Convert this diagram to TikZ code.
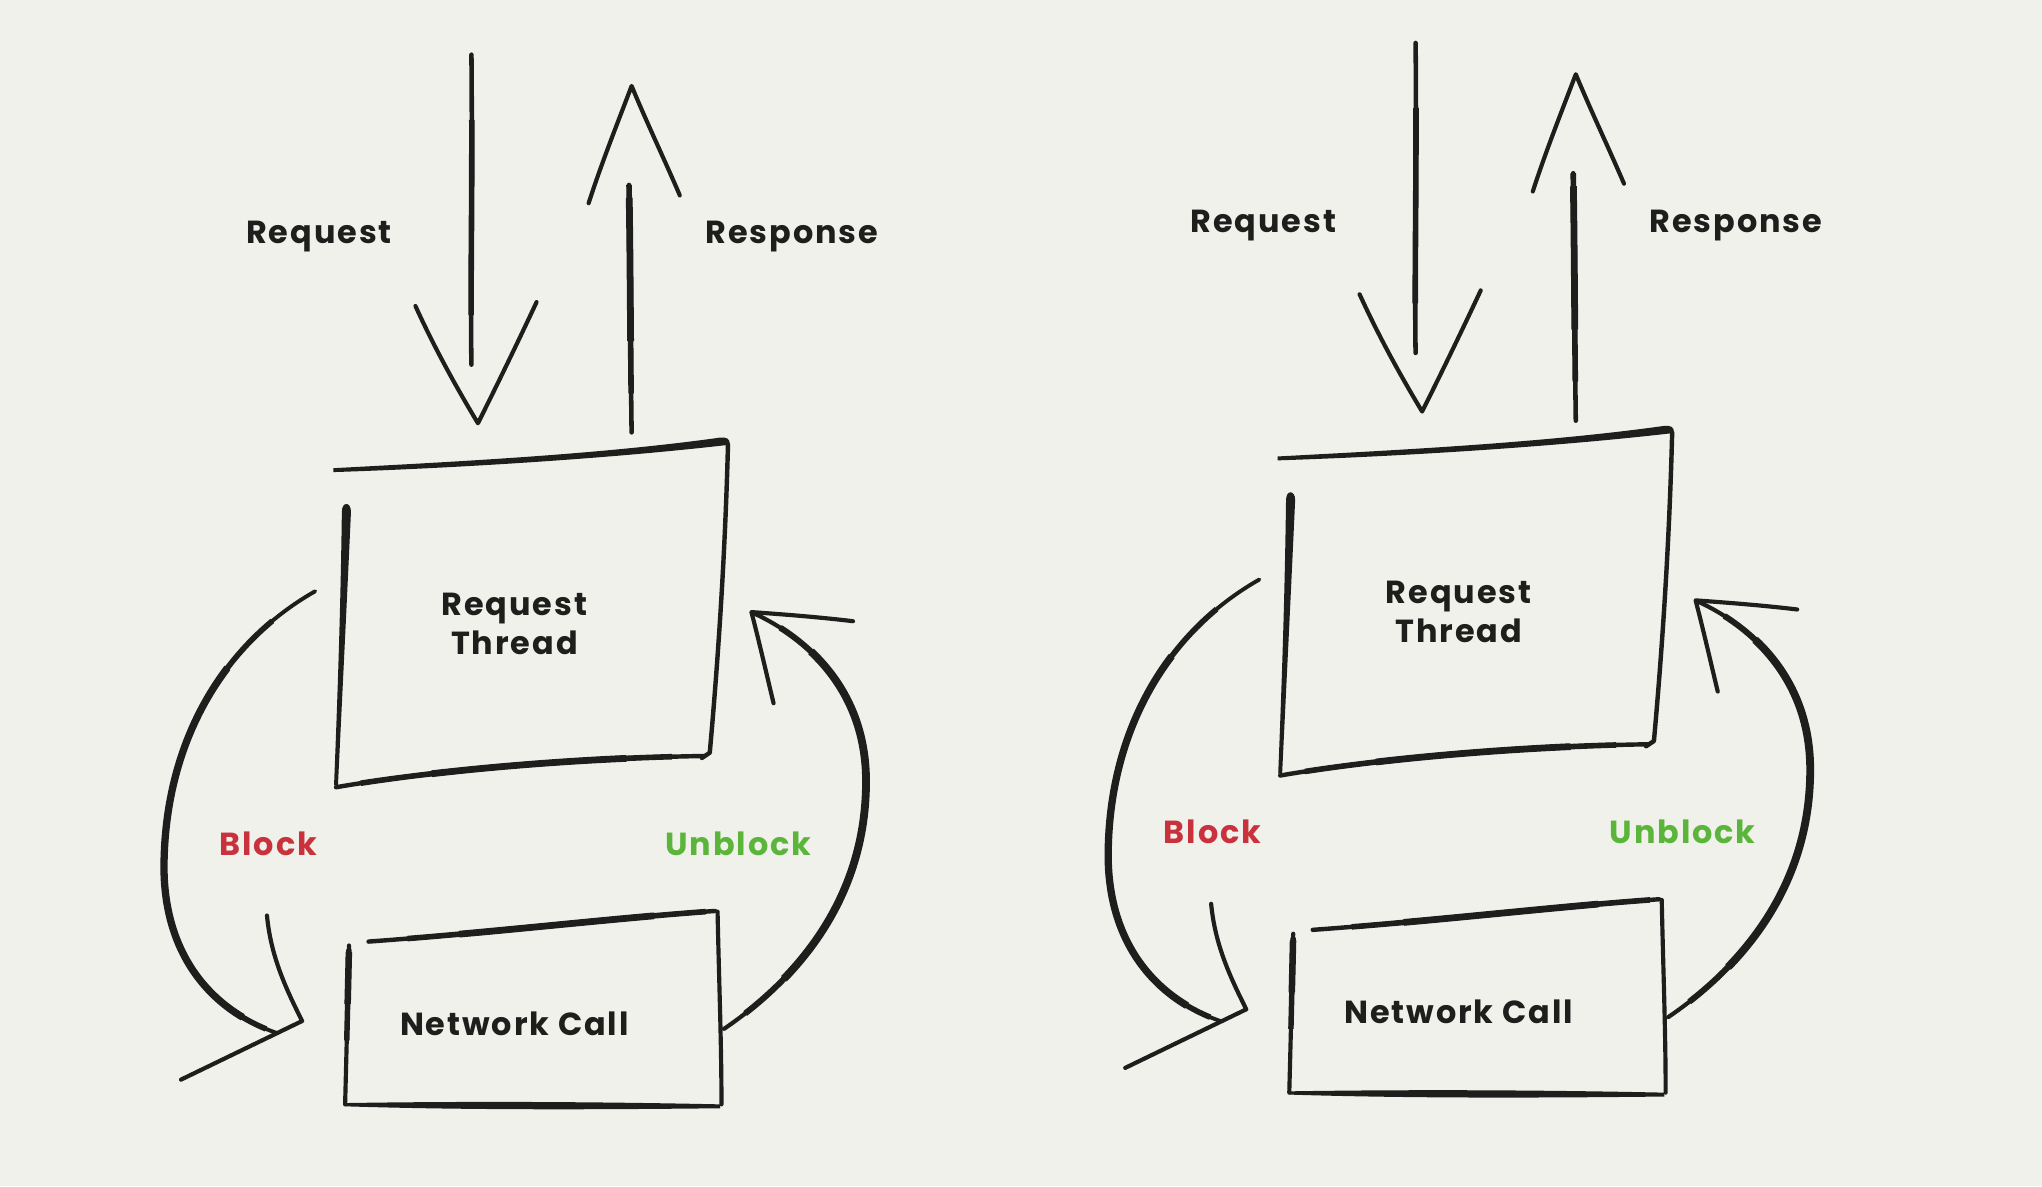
\documentclass[tikz,border=0pt]{standalone}
\usepackage{fontspec}
\setmainfont{Poppins}
\newfontfamily\lblfont{Poppins}[LetterSpace=6]
\definecolor{ink}{HTML}{1E1E1C}
\definecolor{bgc}{HTML}{F0F1EB}
\definecolor{redc}{HTML}{C9323C}
\definecolor{greenc}{HTML}{5BB53A}
\tikzset{
  pen/.style={draw=ink,line width=3pt,line cap=round,line join=round},
  boldpen/.style={draw=ink,line cap=butt,line join=round},
  label/.style={font=\lblfont\bfseries\fontsize{24.5}{30}\selectfont,text=ink,inner sep=0pt,align=center},
  diagram/.pic={
    % ---------- named points ----------
    \coordinate (-rqa) at (362,42);
    \coordinate (-rqb) at (362,280);
    \coordinate (-rsa) at (485,332);
    \coordinate (-rsb) at (483,142);
    \coordinate (-bs) at (242,454);
    \coordinate (-be) at (212,793);
    \coordinate (-us) at (556,790);
    \coordinate (-ue) at (579,471);
    % ---------- texts ----------
    \node[label] (-rq) at (245,182) {Request};
    \node[label] (-rs) at (608,182) {Response};
    \node[label] (-rt) at (395,479) {Request\\Thread};
    \node[label] (-nc) at (395,786) {Network Call};
    \node[label,text=redc] (-bl) at (206,648) {Block};
    \node[label,text=greenc] (-ub) at (567,648) {Unblock};
    % ---------- Request Thread box ----------
    \fill[ink] (256,359.5) .. controls (350,354.5) and (460,349) .. (553,336)
       .. controls (558,335.5) and (561,337) .. (560,341.5)
       .. controls (470,352) and (350,359.5) .. (256,362.5) -- cycle;
    \draw[pen,line width=3.4pt] (559,341) .. controls (557,420) and (552,500) .. (545,578) -- (539,582);
    \draw[pen,line width=3.4pt] (541,580.5) .. controls (440,582) and (330,592) .. (258,604.5);
    \draw[boldpen,line width=4.3pt,dash pattern=on 0pt off 25pt on 240pt off 1000pt]
       (541,580.5) .. controls (440,582) and (330,592) .. (258,604.5);
    \draw[boldpen,line width=5.2pt,dash pattern=on 0pt off 60pt on 150pt off 1000pt]
       (541,580.5) .. controls (440,582) and (330,592) .. (258,604.5);
    \fill[ink] (262.5,393) .. controls (261.5,470) and (259,540) .. (256.5,603)
       -- (259.5,603) .. controls (262.5,540) and (266,470) .. (269.5,393)
       .. controls (269.5,385) and (262.5,385) .. (262.5,393) -- cycle;
    % ---------- Network Call box ----------
    \draw[pen,line width=3.4pt] (283,723) .. controls (380,716) and (470,705) .. (549,699.5);
    \draw[boldpen,line width=4.3pt,dash pattern=on 0pt off 30pt on 230pt off 1000pt]
       (283,723) .. controls (380,716) and (470,705) .. (549,699.5);
    \draw[boldpen,line width=5.2pt,dash pattern=on 0pt off 70pt on 150pt off 1000pt]
       (283,723) .. controls (380,716) and (470,705) .. (549,699.5);
    \draw[pen,line width=3.2pt] (551,700) .. controls (552,750) and (554,800) .. (554,848);
    \fill[ink] (265,847) .. controls (360,845.5) and (460,846) .. (553,848)
       -- (553,851) .. controls (460,852) and (360,852.5) .. (265,849.5) -- cycle;
    \draw[pen,line width=3.2pt] (268,726) .. controls (267,770) and (266,810) .. (265,848);
    \draw[boldpen,line width=4.2pt,dash pattern=on 0pt off 3pt on 70pt off 1000pt]
       (268,726) .. controls (267,770) and (266,810) .. (265,848);
    \draw[boldpen,line width=5pt,dash pattern=on 0pt off 5pt on 40pt off 1000pt]
       (268,726) .. controls (267,770) and (266,810) .. (265,848);
    % ---------- Request arrow ----------
    \draw[pen,line width=3.5pt] (-rqa) .. controls (363,150) and (361,220) .. (-rqb);
    \draw[boldpen,line width=4.3pt,dash pattern=on 0pt off 50pt on 150pt off 1000pt]
       (-rqa) .. controls (363,150) and (361,220) .. (-rqb);
    \draw[pen,line width=3.2pt] (319,235) .. controls (335,270) and (352,300) .. (367,325)
       .. controls (382,295) and (398,262) .. (412,232);
    % ---------- Response arrow ----------
    \draw[pen,line width=3.5pt] (-rsa) .. controls (484,260) and (484,200) .. (-rsb);
    \draw[boldpen,line width=4.3pt,dash pattern=on 0pt off 30pt on 160pt off 1000pt]
       (-rsa) .. controls (484,260) and (484,200) .. (-rsb);
    \draw[boldpen,line width=5.2pt,dash pattern=on 0pt off 70pt on 110pt off 1000pt]
       (-rsa) .. controls (484,260) and (484,200) .. (-rsb);
    \draw[pen,line width=3.2pt] (452,156) .. controls (462,125) and (474,95) .. (485,66)
       .. controls (497,95) and (510,122) .. (522,150);
    % ---------- Block connector ----------
    \draw[pen,line width=3pt] (-bs) .. controls (170,495) and (128,570) .. (126,660)
       .. controls (124,730) and (160,775) .. (-be);
    \draw[boldpen,line width=4.3pt,dash pattern=on 0pt off 40pt on 370pt off 1000pt]
       (-bs) .. controls (170,495) and (128,570) .. (126,660)
       .. controls (124,730) and (160,775) .. (-be);
    \draw[boldpen,line width=5.6pt,dash pattern=on 0pt off 90pt on 300pt off 1000pt]
       (-bs) .. controls (170,495) and (128,570) .. (126,660)
       .. controls (124,730) and (160,775) .. (-be);
    \draw[pen,line width=3.2pt] (205,703) .. controls (208,735) and (220,760) .. (232,784) -- (139,829);
    % ---------- Unblock connector ----------
    \draw[pen,line width=3.2pt] (-us) .. controls (600,760) and (665,700) .. (665,600)
       .. controls (665,530) and (620,490) .. (-ue);
    \draw[boldpen,line width=4.6pt,dash pattern=on 0pt off 20pt on 350pt off 1000pt]
       (-us) .. controls (600,760) and (665,700) .. (665,600)
       .. controls (665,530) and (620,490) .. (-ue);
    \draw[boldpen,line width=6pt,dash pattern=on 0pt off 60pt on 280pt off 1000pt]
       (-us) .. controls (600,760) and (665,700) .. (665,600)
       .. controls (665,530) and (620,490) .. (-ue);
    \draw[pen,line width=3.2pt] (594,540) .. controls (588,515) and (583,493) .. (577,470)
       .. controls (605,472) and (630,474) .. (655,477);
  }
}
\begin{document}
\begin{tikzpicture}[x=1pt,y=-1pt]
  \fill[bgc] (0,0) rectangle (1568,911);
  \useasboundingbox (0,0) rectangle (1568,911);
  \pic (L) at (0,0) {diagram};
  \pic (R) at (725,-9) {diagram};
\end{tikzpicture}
\end{document}
